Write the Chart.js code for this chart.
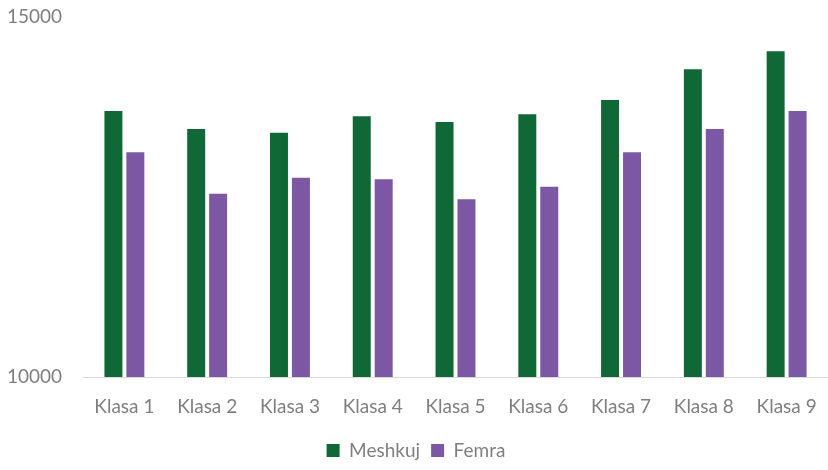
<!DOCTYPE html>
<html>
<head>
<meta charset="utf-8">
<script src="https://cdn.jsdelivr.net/npm/chart.js@4"></script>
<style>
  html, body { margin: 0; padding: 0; background: #fff; }
  #wrap { width: 828px; height: 470px; }
</style>
</head>
<body>
<div id="wrap"><canvas id="chart"></canvas></div>
<script>
// data
const categories = ['Klasa 1', 'Klasa 2', 'Klasa 3', 'Klasa 4', 'Klasa 5', 'Klasa 6', 'Klasa 7', 'Klasa 8', 'Klasa 9'];
const meshkuj = [13694, 13444, 13394, 13620, 13542, 13648, 13847, 14273, 14523];
const femra = [13121, 12546, 12769, 12745, 12468, 12644, 13121, 13444, 13694];
const yTicks = [10000, 15000];

const textGray = '#7f7f7f';
const font = { family: 'Lato', size: 19 };

new Chart(document.getElementById('chart'), {
    type: 'bar',
    data: {
        labels: categories,
        datasets: [
            { label: 'Meshkuj', data: meshkuj, backgroundColor: '#106836' },
            { label: 'Femra', data: femra, backgroundColor: '#7c58a4' }
        ]
    },
    options: {
        responsive: true,
        maintainAspectRatio: false,
        animation: false,
        // plot area runs a little past the right edge, as in the reference
        layout: { padding: { top: 17, right: -4, bottom: 0, left: 0 } },
        datasets: { bar: { categoryPercentage: 0.53, barPercentage: 0.82 } },
        plugins: {
            legend: {
                position: 'bottom',
                labels: { color: textGray, font: font, boxWidth: 13, boxHeight: 13, padding: 11 }
            },
            tooltip: { enabled: false }
        },
        scales: {
            x: {
                grid: { display: false, drawTicks: false },
                border: { display: true, color: '#d9d9d9', width: 1 },
                ticks: { color: textGray, font: font, padding: 18, maxRotation: 0 },
                afterFit: s => { s.height = 53; s.paddingLeft = 0; s.paddingRight = 0; }
            },
            y: {
                min: 10000,
                max: 15000,
                afterFit: s => { s.width = 83; s.paddingTop = 0; s.paddingBottom = 0; },
                afterBuildTicks: s => { s.ticks = yTicks.map(v => ({ value: v })); },
                grid: { display: false, drawTicks: false },
                border: { display: false },
                ticks: { color: textGray, font: font, padding: 21, callback: v => String(v) }
            }
        }
    }
});
</script>
</body>
</html>
